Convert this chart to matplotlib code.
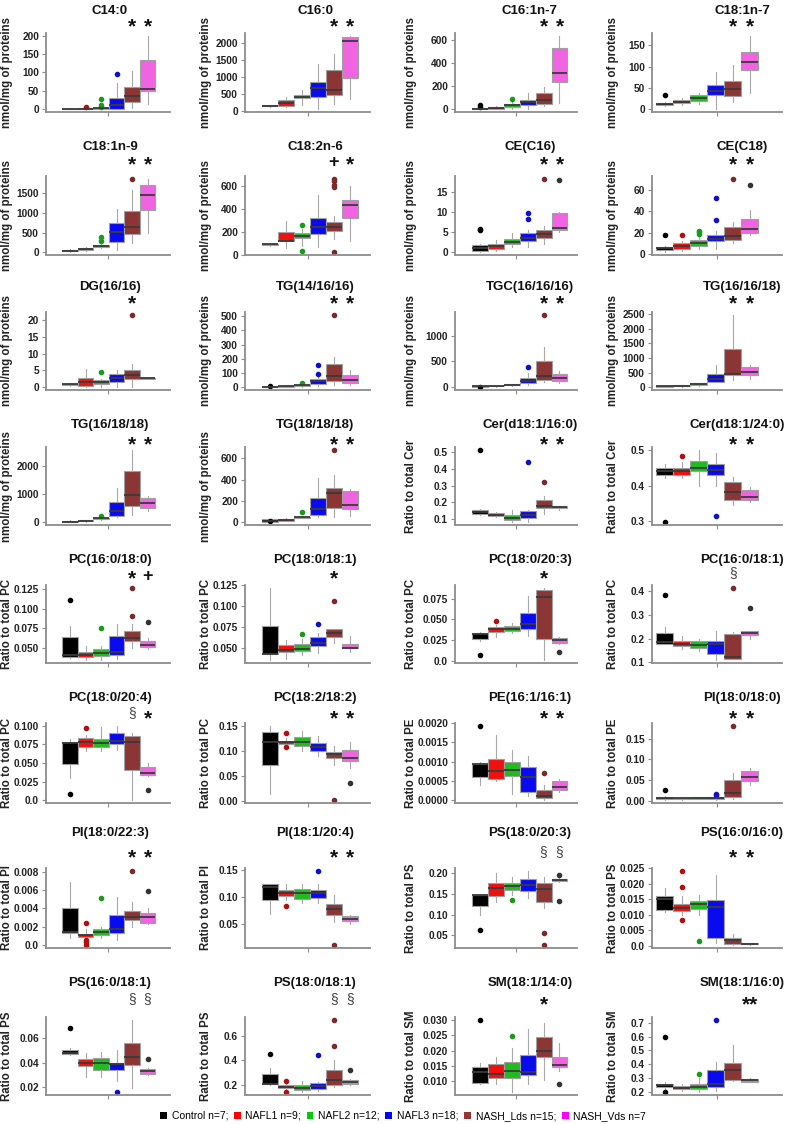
import matplotlib
matplotlib.use('Agg')
import matplotlib.pyplot as plt
from matplotlib.patches import Patch
from matplotlib.transforms import blended_transform_factory

ARIAL = ['Liberation Sans', 'DejaVu Sans']

groups = ['Control n=7;', 'NAFL1 n=9;', 'NAFL2 n=12;', 'NAFL3 n=18;',
          'NASH_Lds n=15;', 'NASH_Vds n=7']
box_colors = ['#000000', '#f01010', '#1fbb1f', '#0a0aee', '#8b3535', '#f064e2']
flier_colors = ['#000000', '#b01010', '#1a9a1a', '#1010cc', '#7a2a2a', '#333333']
legend_colors = ['#000000', '#ff0000', '#00cc00', '#0000ff', '#993333', '#ff00ff']

titles = ['C14:0', 'C16:0', 'C16:1n-7', 'C18:1n-7',
          'C18:1n-9', 'C18:2n-6', 'CE(C16)', 'CE(C18)',
          'DG(16/16)', 'TG(14/16/16)', 'TGC(16/16/16)', 'TG(16/16/18)',
          'TG(16/18/18)', 'TG(18/18/18)', 'Cer(d18:1/16:0)', 'Cer(d18:1/24:0)',
          'PC(16:0/18:0)', 'PC(18:0/18:1)', 'PC(18:0/20:3)', 'PC(16:0/18:1)',
          'PC(18:0/20:4)', 'PC(18:2/18:2)', 'PE(16:1/16:1)', 'PI(18:0/18:0)',
          'PI(18:0/22:3)', 'PI(18:1/20:4)', 'PS(18:0/20:3)', 'PS(16:0/16:0)',
          'PS(16:0/18:1)', 'PS(18:0/18:1)', 'SM(18:1/14:0)', 'SM(18:1/16:0)']

ylabels = ['nmol/mg of proteins'] * 14 + ['Ratio to total Cer'] * 2 + \
          ['Ratio to total PC'] * 6 + ['Ratio to total PE'] * 2 + \
          ['Ratio to total PI'] * 2 + ['Ratio to total PS'] * 4 + \
          ['Ratio to total SM'] * 2

yticks = [['0', '50', '100', '150', '200'], ['0', '500', '1000', '1500', '2000'],
          ['0', '200', '400', '600'], ['0', '50', '100', '150'],
          ['0', '500', '1000', '1500'], ['0', '200', '400', '600'],
          ['0', '5', '10', '15'], ['0', '20', '40', '60'],
          ['0', '5', '10', '15', '20'], ['0', '100', '200', '300', '400', '500'],
          ['0', '500', '1000'], ['0', '500', '1000', '1500', '2000', '2500'],
          ['0', '1000', '2000'], ['0', '200', '400', '600'],
          ['0.1', '0.2', '0.3', '0.4', '0.5'], ['0.3', '0.4', '0.5'],
          ['0.050', '0.075', '0.100', '0.125'], ['0.050', '0.075', '0.100', '0.125'],
          ['0.0', '0.025', '0.050', '0.075'], ['0.1', '0.2', '0.3', '0.4'],
          ['0.0', '0.025', '0.050', '0.075', '0.100'], ['0.00', '0.05', '0.10', '0.15'],
          ['0.0000', '0.0005', '0.0010', '0.0015', '0.0020'], ['0.00', '0.05', '0.10', '0.15'],
          ['0.0', '0.002', '0.004', '0.006', '0.008'], ['0.05', '0.10', '0.15'],
          ['0.05', '0.10', '0.15', '0.20'], ['0.0', '0.005', '0.010', '0.015', '0.020', '0.025'],
          ['0.02', '0.04', '0.06'], ['0.2', '0.4', '0.6'],
          ['0.010', '0.015', '0.020', '0.025', '0.030'], ['0.2', '0.3', '0.4', '0.5', '0.6', '0.7']]

# significance marks above NASH_Lds and NASH_Vds
marks = [('*', '*'), ('*', '*'), ('*', '*'), ('*', '*'),
         ('*', '*'), ('+', '*'), ('*', '*'), ('*', '*'),
         ('*', ''), ('*', '*'), ('*', '*'), ('*', '*'),
         ('*', '*'), ('*', '*'), ('*', '*'), ('*', '*'),
         ('*', '+'), ('*', ''), ('*', ''), ('§', ''),
         ('§', '*'), ('*', '*'), ('*', '*'), ('*', '*'),
         ('*', '*'), ('*', '*'), ('§', '§'), ('*', '*'),
         ('§', '§'), ('§', '§'), ('*', ''), ('', '**')]

# box statistics, one row per panel, one value per group
whislo = [[0, 0.5, 0, 0, 4, 14], [100, 100, 170, 50, 210, 360],
          [0, 2, 5, 5, 25, 50], [8, 10, 12, 0, 16, 38],
          [10, 30, 120, 50, 230, 500], [80, 65, 75, 70, 140, 120],
          [0, 0.3, 1.2, 1.3, 2.0, 5.0], [2, 3, 5, 5, 10, 18],
          [0.3, 0, 0.1, 0, 0.1, 2.4], [0, 1, 3, 5, 15, 15],
          [0, 0, 10, 40, 90, 70], [10, 30, 60, 180, 250, 300],
          [0, 20, 90, 180, 250, 400], [0, 10, 35, 50, 50, 60],
          [0.12, 0.11, 0.08, 0.08, 0.13, 0.155], [0.42, 0.42, 0.40, 0.40, 0.345, 0.355],
          [0.037, 0.034, 0.034, 0.036, 0.05, 0.048], [0.035, 0.036, 0.041, 0.043, 0.056, 0.045],
          [0.024, 0.029, 0.034, 0.030, 0.001, 0.021], [0.18, 0.155, 0.15, 0.11, 0.115, 0.2],
          [0.030, 0.066, 0.066, 0.067, 0.0, 0.033], [0.015, 0.112, 0.10, 0.09, 0.072, 0.066],
          [0.00038, 0.0005, 0.00015, 0.0001, 0.0, 0.0002], [0.003, 0.004, 0.005, 0.003, 0.005, 0.04],
          [0.0008, 0.0008, 0.0008, 0.0006, 0.002, 0.0023], [0.07, 0.095, 0.09, 0.09, 0.055, 0.05],
          [0.099, 0.13, 0.148, 0.14, 0.115, 0.178], [0.011, 0.01, 0.01, 0.001, 0.0003, 0.0004],
          [0.046, 0.028, 0.028, 0.025, 0.019, 0.03], [0.2, 0.16, 0.14, 0.15, 0.18, 0.2],
          [0.009, 0.009, 0.0065, 0.009, 0.0105, 0.0135], [0.22, 0.21, 0.2, 0.21, 0.28, 0.27]]

q1 = [[0.5, 1, 1, 1, 18, 50], [130, 150, 380, 420, 480, 980],
      [3, 5, 18, 36, 48, 239], [10, 14, 20, 33, 31, 93],
      [30, 60, 150, 273, 477, 1060], [85, 118, 145, 180, 206, 320],
      [0.3, 0.8, 2.0, 2.8, 3.4, 5.6], [4, 5, 8, 12, 13, 20],
      [0.5, 0.3, 1.0, 1.4, 2.5, 2.5], [1, 3, 8, 22, 44, 32],
      [3, 5, 25, 70, 133, 110], [20, 40, 80, 200, 430, 430],
      [5, 30, 110, 230, 554, 506], [5, 15, 40, 65, 130, 125],
      [0.13, 0.115, 0.09, 0.105, 0.165, 0.168], [0.43, 0.43, 0.44, 0.43, 0.36, 0.36],
      [0.038, 0.038, 0.039, 0.040, 0.059, 0.051], [0.042, 0.045, 0.046, 0.052, 0.063, 0.049],
      [0.027, 0.035, 0.036, 0.038, 0.026, 0.022], [0.18, 0.168, 0.16, 0.135, 0.115, 0.215],
      [0.049, 0.072, 0.072, 0.076, 0.040, 0.034], [0.073, 0.114, 0.11, 0.10, 0.086, 0.079],
      [0.0006, 0.00055, 0.00062, 0.0002, 0.00005, 0.00026], [0.005, 0.005, 0.006, 0.006, 0.01, 0.048],
      [0.0013, 0.0009, 0.0011, 0.0013, 0.0027, 0.0024], [0.095, 0.103, 0.098, 0.099, 0.068, 0.056],
      [0.12, 0.145, 0.16, 0.157, 0.13, 0.18], [0.0115, 0.0113, 0.012, 0.0025, 0.0007, 0.0005],
      [0.047, 0.037, 0.034, 0.034, 0.038, 0.031], [0.21, 0.17, 0.16, 0.165, 0.2, 0.21],
      [0.0095, 0.011, 0.011, 0.012, 0.018, 0.0147], [0.24, 0.22, 0.225, 0.235, 0.29, 0.275]]

med = [[1, 1.5, 2, 12, 35, 55], [150, 240, 420, 680, 620, 2060],
       [5, 10, 35, 62, 76, 318], [12, 17, 27, 43, 47, 110],
       [45, 90, 170, 520, 644, 1450], [92, 125, 170, 245, 245, 435],
       [1.0, 1.4, 2.6, 3.6, 4.5, 6.0], [5.5, 8, 10.5, 14, 16.5, 23.5],
       [0.8, 1.5, 1.5, 2.8, 3.5, 2.7], [2, 5, 12, 40, 80, 50],
       [6, 10, 35, 120, 210, 180], [40, 55, 110, 290, 440, 530],
       [20, 50, 130, 390, 970, 680], [15, 22, 45, 120, 275, 160],
       [0.14, 0.125, 0.105, 0.125, 0.175, 0.173], [0.44, 0.44, 0.45, 0.445, 0.383, 0.368],
       [0.040, 0.041, 0.043, 0.045, 0.062, 0.054], [0.042, 0.047, 0.048, 0.056, 0.068, 0.050],
       [0.033, 0.038, 0.039, 0.045, 0.077, 0.025], [0.185, 0.18, 0.175, 0.178, 0.122, 0.225],
       [0.077, 0.078, 0.077, 0.080, 0.079, 0.037], [0.117, 0.117, 0.118, 0.107, 0.093, 0.086],
       [0.00094, 0.00075, 0.00078, 0.0006, 0.0001, 0.00033], [0.007, 0.007, 0.008, 0.008, 0.02, 0.058],
       [0.0014, 0.0011, 0.0014, 0.0017, 0.0031, 0.0031], [0.12, 0.108, 0.108, 0.108, 0.079, 0.06],
       [0.147, 0.165, 0.168, 0.172, 0.161, 0.183], [0.015, 0.0123, 0.0133, 0.0125, 0.002, 0.0006],
       [0.048, 0.040, 0.040, 0.039, 0.045, 0.033], [0.21, 0.185, 0.175, 0.19, 0.24, 0.225],
       [0.013, 0.0125, 0.0135, 0.013, 0.020, 0.0152], [0.25, 0.23, 0.24, 0.26, 0.36, 0.285]]

q3 = [[1.5, 2, 3, 31, 61, 135], [160, 330, 480, 860, 1210, 2180],
      [10, 15, 48, 79, 139, 530], [15, 21, 32, 56, 66, 134],
      [60, 120, 190, 750, 1040, 1685], [100, 197, 190, 325, 290, 480],
      [1.7, 2.1, 3.2, 4.7, 5.4, 9.7], [7, 10, 13, 18, 25, 33],
      [1.0, 2.7, 2.0, 3.9, 5.2, 2.8], [4, 8, 18, 55, 165, 85],
      [10, 15, 45, 175, 513, 250], [50, 70, 140, 470, 1310, 700],
      [50, 70, 150, 700, 1795, 868], [25, 30, 50, 230, 320, 295],
      [0.15, 0.135, 0.12, 0.145, 0.215, 0.178], [0.45, 0.45, 0.47, 0.46, 0.41, 0.387],
      [0.064, 0.045, 0.048, 0.065, 0.072, 0.059], [0.076, 0.053, 0.054, 0.063, 0.072, 0.055],
      [0.034, 0.041, 0.042, 0.058, 0.085, 0.028], [0.225, 0.19, 0.19, 0.19, 0.222, 0.232],
      [0.078, 0.084, 0.083, 0.090, 0.086, 0.044], [0.137, 0.119, 0.127, 0.116, 0.097, 0.101],
      [0.00095, 0.00107, 0.00098, 0.00085, 0.00027, 0.0005], [0.01, 0.009, 0.01, 0.01, 0.05, 0.072],
      [0.004, 0.0012, 0.0017, 0.0033, 0.0037, 0.0035], [0.125, 0.113, 0.116, 0.114, 0.088, 0.065],
      [0.148, 0.177, 0.177, 0.185, 0.177, 0.185], [0.016, 0.0135, 0.0145, 0.0148, 0.0025, 0.0008],
      [0.050, 0.043, 0.044, 0.040, 0.056, 0.035], [0.29, 0.2, 0.2, 0.215, 0.32, 0.24],
      [0.0148, 0.0157, 0.0162, 0.0187, 0.0245, 0.018], [0.26, 0.245, 0.26, 0.36, 0.41, 0.295]]

whishi = [[2, 3, 5, 72, 105, 200], [170, 400, 620, 1380, 1670, 2210],
          [15, 25, 60, 139, 190, 640], [17, 25, 38, 88, 103, 172],
          [80, 150, 220, 1085, 1560, 1850], [105, 300, 225, 525, 340, 600],
          [2.0, 3.0, 4.8, 5.5, 6.5, 10.0], [8, 12, 17, 22, 30, 41],
          [1.2, 5.3, 2.5, 5.0, 7.0, 2.9], [6, 12, 25, 75, 215, 120],
          [15, 20, 60, 280, 790, 320], [60, 80, 160, 780, 2470, 760],
          [60, 80, 170, 1220, 2560, 940], [30, 35, 55, 415, 440, 310],
          [0.16, 0.14, 0.155, 0.155, 0.24, 0.18], [0.46, 0.465, 0.50, 0.49, 0.425, 0.395],
          [0.078, 0.052, 0.052, 0.080, 0.080, 0.063], [0.122, 0.059, 0.060, 0.068, 0.073, 0.064],
          [0.035, 0.043, 0.046, 0.078, 0.088, 0.029], [0.25, 0.21, 0.2, 0.235, 0.23, 0.235],
          [0.082, 0.088, 0.098, 0.100, 0.090, 0.050], [0.15, 0.125, 0.14, 0.13, 0.11, 0.118],
          [0.001, 0.0017, 0.0013, 0.00115, 0.0004, 0.00055], [0.012, 0.011, 0.011, 0.012, 0.068, 0.08],
          [0.0069, 0.0018, 0.002, 0.0053, 0.0047, 0.004], [0.125, 0.124, 0.125, 0.125, 0.104, 0.068],
          [0.15, 0.2, 0.19, 0.205, 0.19, 0.188], [0.0185, 0.016, 0.0165, 0.0228, 0.004, 0.001],
          [0.052, 0.048, 0.049, 0.050, 0.075, 0.036], [0.34, 0.21, 0.23, 0.22, 0.4, 0.25],
          [0.016, 0.018, 0.021, 0.027, 0.029, 0.0225], [0.27, 0.26, 0.3, 0.42, 0.54, 0.3]]

outliers = [[[], [7], [28, 12, 7], [97], [], []],
            [[], [], [], [], [], []],
            [[22, 32], [], [85], [], [], []],
            [[34], [], [], [], [], []],
            [[], [], [290, 400], [], [1850], []],
            [[], [], [265, 35], [], [590, 615, 645, 665, 25], []],
            [[5.5, 5.8], [], [], [8.2, 9.7], [18.3], [18.0]],
            [[18], [18], [19, 20.5, 22], [32, 52], [70], [64]],
            [[], [], [4.5], [], [21.6], []],
            [[10], [], [28], [95, 155], [510], []],
            [[-8], [], [], [390], [1420], []],
            [[], [], [], [], [], []],
            [[], [], [230], [], [], []],
            [[8], [], [95], [], [680], []],
            [[0.515], [], [], [0.44], [0.32], []],
            [[0.298], [0.483], [], [0.316], [], []],
            [[0.111], [], [0.075], [], [0.091, 0.127], [0.083]],
            [[], [], [0.066], [0.078], [0.106], []],
            [[0.007], [0.048], [], [], [], [0.011]],
            [[0.385], [], [], [], [0.415], [0.332]],
            [[0.008], [0.097], [], [], [], [0.014]],
            [[], [0.135, 0.107], [], [], [0.002], [0.037]],
            [[0.00193], [], [], [], [0.0007], []],
            [[0.026], [], [], [0.015, 0.017], [0.18], []],
            [[], [0.0024, 0.0006, 0.0003, 0.0], [0.0051], [], [0.0081], [0.0059]],
            [[], [0.085], [], [0.149], [0.012], []],
            [[0.063], [], [0.135], [], [0.056, 0.027], [0.195, 0.133]],
            [[], [0.024, 0.019, 0.0083], [0.0015], [], [], []],
            [[0.068], [], [], [0.016], [], [0.043]],
            [[0.45], [0.23, 0.14], [], [0.44], [0.52, 0.73], [0.32]],
            [[0.030], [], [0.0248], [], [], [0.0093]],
            [[0.6, 0.2], [], [0.33], [0.72], [], []]]

W, H = 787.0, 1124.0
fig = plt.figure(figsize=(W / 100, H / 100), dpi=100)

# layout in pixels
col_left = [46, 245, 455, 652]
col_right = [170, 370, 577, 782]
col_xlim = [(-0.55, 7.45), (-0.56, 7.25), (-0.56, 7.1), (0.24, 7.9)]
title_x = [110, 315, 530, 742]
ylab_x = [7, 206, 411, 613]
row_top = [33, 176, 312, 447, 585, 723, 868, 1017]
row_bot = [112, 255, 390, 525, 663, 803, 948, 1095]
title_y = [11, 147, 287, 425, 560, 698, 833, 983]
mark_y = [21, 159, 298, 439, 573, 713, 852, 999]

gray = '#8c8c8c'
title_texts = []
for i in range(32):
    r, c = divmod(i, 4)
    ax = fig.add_axes([col_left[c] / W, 1 - row_bot[r] / H,
                       (col_right[c] - col_left[c]) / W, (row_bot[r] - row_top[r]) / H])
    stats = [dict(whislo=whislo[i][g], q1=q1[i][g], med=med[i][g], q3=q3[i][g],
                  whishi=whishi[i][g], fliers=outliers[i][g]) for g in range(6)]
    bp = ax.bxp(stats, positions=range(1, 7), widths=1.0, patch_artist=True,
                showcaps=False,
                boxprops=dict(edgecolor='#a0a0a0', linewidth=0.8),
                medianprops=dict(color='#3a3a3a', linewidth=1.3),
                whiskerprops=dict(color='#a8a8a8', linewidth=0.8))
    for patch, col in zip(bp['boxes'], box_colors):
        patch.set_facecolor(col)
    for fl, col in zip(bp['fliers'], flier_colors):
        fl.set(marker='o', markersize=3, markerfacecolor=col, markeredgecolor=col)

    vals = whislo[i] + whishi[i] + [v for g in outliers[i] for v in g]
    lo, hi = min(vals), max(vals)
    pad = 0.04 * (hi - lo)
    ax.set_ylim(lo - pad, hi + pad)
    ax.set_xlim(*col_xlim[c])

    ax.set_yticks([float(t) for t in yticks[i]])
    ax.set_yticklabels(yticks[i], family=ARIAL, fontweight='bold', fontsize=7.3, color='#222222')
    ax.set_xticks([sum(col_xlim[c]) / 2])
    ax.set_xticklabels([''])
    ax.tick_params(length=3, width=0.8, color=gray, pad=2)
    for s in ['top', 'right']:
        ax.spines[s].set_visible(False)
    for s in ['left', 'bottom']:
        ax.spines[s].set_color(gray)
        ax.spines[s].set_linewidth(1.3)

    yc = 1 - (row_top[r] + row_bot[r]) / 2 / H
    fig.text(ylab_x[c] / W, yc, ylabels[i], rotation=90, ha='center', va='center',
             family=ARIAL, fontweight='bold', fontsize=8.3, color='#222222')
    title_texts.append(fig.text(title_x[c] / W, 1 - title_y[r] / H, titles[i],
                                ha='center', va='center', family=ARIAL,
                                fontweight='bold', fontsize=9.5, color='#111111'))

    tr = blended_transform_factory(ax.transData, fig.transFigure)
    for pos, m in zip([5, 6], marks[i]):
        if not m:
            continue
        if m == '§':
            ax.text(pos, 1 - (mark_y[r] + 4) / H, m, transform=tr, ha='center', va='baseline',
                    family=ARIAL, fontsize=10, color='#444444')
        elif m == '+':
            ax.text(pos, 1 - (mark_y[r] + 7.5) / H, m, transform=tr, ha='center', va='baseline',
                    family=ARIAL, fontsize=13, fontweight='bold', color='#111111')
        else:
            ax.text(pos, 1 - (mark_y[r] + 11.5) / H, m, transform=tr, ha='center', va='baseline',
                    family=ARIAL, fontsize=15, fontweight='bold', color='#111111')

# keep long titles inside the right edge
renderer = fig.canvas.get_renderer()
for t in title_texts:
    bb = t.get_window_extent(renderer)
    if bb.x1 > W - 2:
        x, y = t.get_position()
        t.set_position((x - (bb.x1 - (W - 2)) / W, y))

handles = [Patch(facecolor=col, edgecolor='none') for col in legend_colors]
fig.legend(handles, groups, loc='center', bbox_to_anchor=(403 / W, 1 - 1116 / H), ncol=6,
           frameon=False, handlelength=0.65, handleheight=0.65, handletextpad=0.45,
           columnspacing=0.55, prop=dict(family=ARIAL, size=7.5))

fig.savefig('out.png', dpi=100)
